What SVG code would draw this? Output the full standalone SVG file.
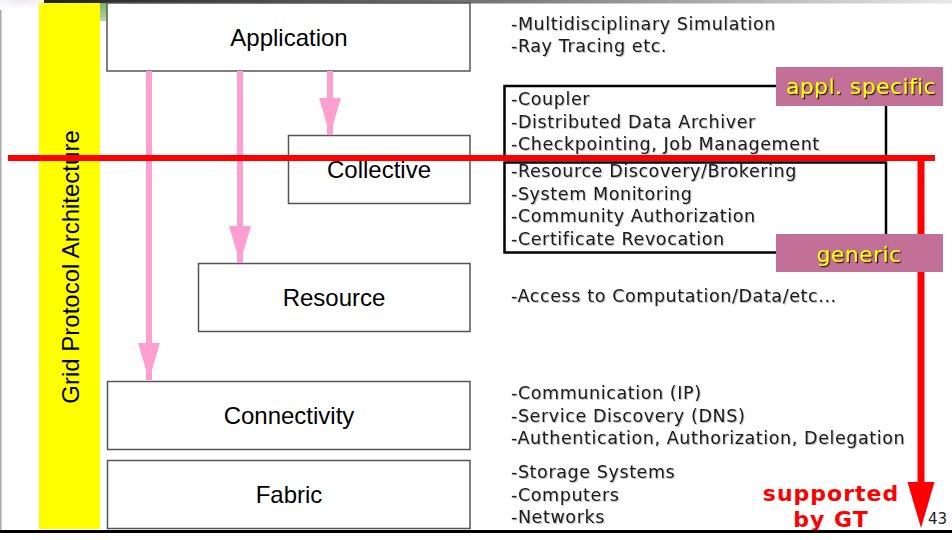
<svg xmlns="http://www.w3.org/2000/svg" width="952" height="540" viewBox="0 0 952 540">
<defs>
<linearGradient id="topbar" x1="0" y1="0" x2="1" y2="0">
<stop offset="0" stop-color="#222"/>
<stop offset="0.5" stop-color="#777"/>
<stop offset="1" stop-color="#e8e8e8"/>
</linearGradient>
<linearGradient id="green" x1="0" y1="0" x2="0" y2="1">
<stop offset="0" stop-color="#7fb070"/>
<stop offset="1" stop-color="#b8d8a8"/>
</linearGradient>
<radialGradient id="corner" cx="0.5" cy="0" r="0.8">
<stop offset="0" stop-color="#ece8f2"/>
<stop offset="1" stop-color="#ffffff"/>
</radialGradient>
<marker id="pinkHead" markerUnits="userSpaceOnUse" markerWidth="38" markerHeight="24" refX="37" refY="12" orient="auto" viewBox="0 0 38 24">
<path d="M0,1 L0,23 L37,12 Z" fill="#ff9fcf"/>
</marker>
<filter id="sh" x="-5%" y="-20%" width="110%" height="140%">
<feDropShadow dx="1" dy="1" stdDeviation="0.4" flood-color="#000" flood-opacity="0.25"/>
</filter>
<filter id="shy" x="-5%" y="-20%" width="110%" height="140%">
<feDropShadow dx="1.2" dy="1.2" stdDeviation="0.3" flood-color="#000" flood-opacity="0.85"/>
</filter>
<style>
.layer{fill:#fff;stroke:#555;stroke-width:1.5}
.lt{font-family:"Liberation Sans",Arial,sans-serif;font-size:24px;fill:#000;text-anchor:middle}
.desc{font-family:"DejaVu Sans",Verdana,sans-serif;font-size:17.5px;letter-spacing:0.6px;fill:#1a1a1a}
.tag{fill:#c27097}
.tagt{font-family:"DejaVu Sans",Verdana,sans-serif;font-size:22px;letter-spacing:0.4px;fill:#ffff00;text-anchor:middle}
.pink{stroke:#ff9fcf;stroke-width:6;fill:none}
.gt{font-family:"DejaVu Sans",Verdana,sans-serif;font-weight:bold;font-size:22px;letter-spacing:1px;fill:#ff0000;text-anchor:middle}
</style>
</defs>

<rect x="0" y="0" width="952" height="540" fill="#fff"/>
<rect x="0" y="0" width="44" height="12" fill="url(#corner)"/>
<rect x="0" y="10" width="1.5" height="520" fill="#aaa"/>
<rect x="44" y="0" width="908" height="3.5" fill="url(#topbar)"/>
<rect x="100" y="3" width="7" height="18" fill="url(#green)"/>

<g id="sidebar">
<rect x="39" y="3" width="61" height="526" fill="#ffff00"/>
<text transform="translate(79,267) rotate(-90)" class="lt">Grid Protocol Architecture</text>
</g>

<g id="application">
<rect class="layer" x="107" y="3" width="363" height="68"/>
<text class="lt" x="289" y="46">Application</text>
</g>
<g id="collective">
<rect class="layer" x="288.5" y="135.5" width="181.5" height="68"/>
<text class="lt" x="379" y="178">Collective</text>
</g>
<g id="resource">
<rect class="layer" x="198.5" y="263.5" width="271.5" height="68"/>
<text class="lt" x="334" y="306">Resource</text>
</g>
<g id="connectivity">
<rect class="layer" x="107.5" y="381.5" width="362.5" height="68"/>
<text class="lt" x="289" y="424">Connectivity</text>
</g>
<g id="fabric">
<rect class="layer" x="107.5" y="460.5" width="362.5" height="68"/>
<text class="lt" x="289" y="503">Fabric</text>
</g>

<g id="connectors">
<line class="pink" x1="149" y1="71" x2="149" y2="380" marker-end="url(#pinkHead)"/>
<line class="pink" x1="240" y1="71" x2="240" y2="263" marker-end="url(#pinkHead)"/>
<line class="pink" x1="330" y1="71" x2="330" y2="135" marker-end="url(#pinkHead)"/>
</g>

<g id="desc-application" class="desc" filter="url(#sh)">
<text x="511" y="30">-Multidisciplinary Simulation</text>
<text x="511" y="52">-Ray Tracing etc.</text>
</g>

<g id="collective-detail">
<rect x="504.5" y="86" width="381.5" height="72" fill="none" stroke="#000" stroke-width="2.5"/>
<rect x="504.5" y="162.5" width="381.5" height="90" fill="none" stroke="#000" stroke-width="2.5"/>
<g class="desc" filter="url(#sh)">
<text x="511" y="105">-Coupler</text>
<text x="511" y="127.5">-Distributed Data Archiver</text>
<text x="511" y="150">-Checkpointing, Job Management</text>
<text x="511" y="177">-Resource Discovery/Brokering</text>
<text x="511" y="199.5">-System Monitoring</text>
<text x="511" y="222">-Community Authorization</text>
<text x="511" y="244.5">-Certificate Revocation</text>
</g>
</g>

<g id="desc-resource" class="desc" filter="url(#sh)">
<text x="511" y="302">-Access to Computation/Data/etc...</text>
</g>
<g id="desc-connectivity" class="desc" filter="url(#sh)">
<text x="511" y="399">-Communication (IP)</text>
<text x="511" y="421.5">-Service Discovery (DNS)</text>
<text x="511" y="444">-Authentication, Authorization, Delegation</text>
</g>
<g id="desc-fabric" class="desc" filter="url(#sh)">
<text x="511" y="478">-Storage Systems</text>
<text x="511" y="500.5">-Computers</text>
<text x="511" y="523">-Networks</text>
</g>

<g id="gt-line">
<line x1="8" y1="158" x2="935" y2="158" stroke="#ff0000" stroke-width="6"/>
<line x1="921" y1="155" x2="921" y2="484" stroke="#ff0000" stroke-width="7"/>
<path d="M907.5,482 L934.5,482 L921,528 Z" fill="#ff0000"/>
</g>

<g id="tag-appl">
<rect class="tag" x="776" y="67" width="167" height="39"/>
<text class="tagt" x="861" y="94" filter="url(#shy)">appl. specific</text>
</g>
<g id="tag-generic">
<rect class="tag" x="776" y="234" width="167" height="38"/>
<text class="tagt" x="859" y="262" filter="url(#shy)">generic</text>
</g>

<g id="supported">
<text class="gt" x="831" y="501">supported</text>
<text class="gt" x="831" y="527">by GT</text>
</g>

<rect x="0" y="530" width="952" height="3" fill="#000"/>
<text x="928" y="524" font-family="'DejaVu Sans',Verdana,sans-serif" font-size="15" fill="#222">43</text>
</svg>
